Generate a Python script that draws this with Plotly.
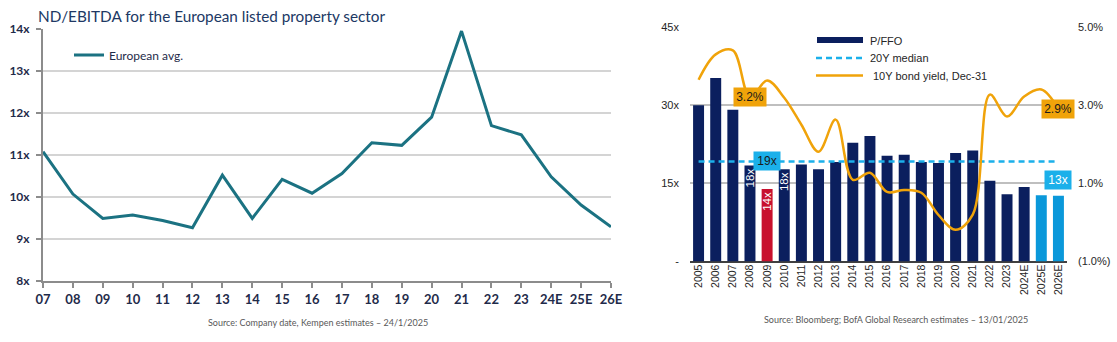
import plotly.graph_objects as go

# ---------------- Data ----------------
# Left panel: ND/EBITDA, European listed property sector
nd_years = ["07", "08", "09", "10", "11", "12", "13", "14", "15", "16",
            "17", "18", "19", "20", "21", "22", "23", "24E", "25E", "26E"]
nd_ebitda = [11.08, 10.07, 9.49, 9.57, 9.44, 9.27, 10.52, 9.49, 10.42, 10.09,
             10.56, 11.29, 11.23, 11.90, 13.95, 11.70, 11.48, 10.48, 9.81, 9.29]
nd_tickvals = [8, 9, 10, 11, 12, 13, 14]
nd_ticktext = ["8x", "9x", "10x", "11x", "12x", "13x", "14x"]

# Right panel: P/FFO and 10Y bond yield
pffo_years = ["2005", "2006", "2007", "2008", "2009", "2010", "2011", "2012",
              "2013", "2014", "2015", "2016", "2017", "2018", "2019", "2020",
              "2021", "2022", "2023", "2024E", "2025E", "2026E"]
pffo = [30.0, 35.2, 29.1, 18.4, 13.9, 17.7, 18.6, 17.7, 19.1, 22.8, 24.1,
        20.3, 20.5, 19.1, 18.9, 20.8, 21.3, 15.5, 12.9, 14.3, 12.7, 12.6]
bond_yield = [3.65, 4.30, 4.40, 3.20, 3.63, 3.19, 2.50, 1.81, 2.63, 1.09, 1.27,
              0.78, 0.83, 0.76, 0.19, -0.19, 0.20, 3.27, 2.71, 3.22, 3.40, 2.90]
pffo_median = 19.2
pffo_tickvals = [0, 15, 30, 45]
pffo_ticktext = ["-", "15x", "30x", "45x"]
yield_tickvals = [-1, 1, 3, 5]
yield_ticktext = ["(1.0%)", "1.0%", "3.0%", "5.0%"]

labelled_years = ["2008", "2009", "2010"]
median_label_year = "2009"
yield_callouts = ["2008", "2026E"]

# ---------------- Styling ----------------
W, H = 1117, 342
TEAL = "#1b7282"
NAVY = "#0b1f5e"
RED = "#c8102e"
LIGHT = "#0a98da"
SKY = "#1bb0ea"
ORANGE = "#f0a30a"
GRID = "#d4d4d4"
TXT_L = "#1f2b4a"
TXT_R = "#262626"


def px(x):
    return x / W


def py(y):
    return 1 - y / H


bar_colors = []
for yr in pffo_years:
    if yr == "2009":
        bar_colors.append(RED)
    elif yr in ("2025E", "2026E"):
        bar_colors.append(LIGHT)
    else:
        bar_colors.append(NAVY)

bar_text = [f"{round(v)}x" if yr in labelled_years else "" for yr, v in zip(pffo_years, pffo)]

fig = go.Figure()

# Left: ND/EBITDA line
fig.add_trace(go.Scatter(
    x=nd_years, y=nd_ebitda, mode="lines", name="European avg.",
    line=dict(color=TEAL, width=3), xaxis="x", yaxis="y",
    legend="legend", showlegend=True,
))

# Right: P/FFO bars
fig.add_trace(go.Bar(
    x=pffo_years, y=pffo, name="P/FFO", marker=dict(color=bar_colors, line=dict(width=0)),
    text=bar_text, textposition="inside", insidetextanchor="end", textangle=-90,
    insidetextfont=dict(color="white", size=11.5, family="Liberation Sans"),
    xaxis="x2", yaxis="y2", showlegend=False, cliponaxis=False,
))

# 20Y median
fig.add_trace(go.Scatter(
    x=[pffo_years[0], pffo_years[-1]], y=[pffo_median, pffo_median], mode="lines",
    line=dict(color=SKY, width=2.5, dash="6px,4px"), xaxis="x2", yaxis="y2",
    showlegend=False,
))

# 10Y bond yield
fig.add_trace(go.Scatter(
    x=pffo_years, y=bond_yield, mode="lines",
    line=dict(color=ORANGE, width=2.5, shape="spline", smoothing=1.0),
    xaxis="x2", yaxis="y3", showlegend=False,
))

# Callouts on the right panel (category positions given by index)
ann = []
ann.append(dict(x=pffo_years.index(median_label_year), y=pffo_median, xref="x2", yref="y2",
                text=f"{round(pffo_median)}x", showarrow=False, bgcolor=SKY,
                font=dict(color="#1a1a1a", size=12, family="Liberation Sans"),
                borderpad=2, width=22, height=14))
ann.append(dict(x=len(pffo_years) - 1, y=pffo[-1] + 3.0, xref="x2", yref="y2",
                text=f"{round(pffo[-1])}x", showarrow=False, bgcolor=SKY,
                font=dict(color="white", size=12, family="Liberation Sans"),
                borderpad=2, width=22, height=14))
for yr in yield_callouts:
    i = pffo_years.index(yr)
    ann.append(dict(x=i, y=bond_yield[i], xref="x2", yref="y3", text=f"{bond_yield[i]:.1f}%",
                    showarrow=False, bgcolor=ORANGE,
                    font=dict(color="#1a1a1a", size=12, family="Liberation Sans"),
                    borderpad=2, width=28, height=14))

# Titles and sources
ann.append(dict(x=px(36), y=py(16), xref="paper", yref="paper", xanchor="left", yanchor="middle",
                text="ND/EBITDA for the European listed property sector", showarrow=False,
                font=dict(color="#203864", size=15.3, family="Lato")))
ann.append(dict(x=px(318), y=py(322), xref="paper", yref="paper", xanchor="center", yanchor="middle",
                text="Source: Company date, Kempen estimates – 24/1/2025", showarrow=False,
                font=dict(color="#595959", size=9, family="Lato")))
ann.append(dict(x=px(896), y=py(319), xref="paper", yref="paper", xanchor="center", yanchor="middle",
                text="Source: Bloomberg; BofA Global Research estimates – 13/01/2025", showarrow=False,
                font=dict(color="#595959", size=9, family="Lato")))

# Right-panel legend
shapes = []
shapes.append(dict(type="rect", xref="paper", yref="paper", x0=px(817), x1=px(863), y0=py(43), y1=py(37),
                   fillcolor=NAVY, line=dict(width=0)))
shapes.append(dict(type="line", xref="paper", yref="paper", x0=px(816), x1=px(863), y0=py(58), y1=py(58),
                   line=dict(color=SKY, width=2.5, dash="6px,4px")))
shapes.append(dict(type="line", xref="paper", yref="paper", x0=px(816), x1=px(863), y0=py(75.5), y1=py(75.5),
                   line=dict(color=ORANGE, width=2.5)))
for label, ypos, xpos in [("P/FFO", 40.5, 868), ("20Y median", 58, 868), ("10Y bond yield, Dec-31", 76, 871)]:
    ann.append(dict(x=px(xpos), y=py(ypos), xref="paper", yref="paper", xanchor="left", yanchor="middle",
                    text=label, showarrow=False, font=dict(color=TXT_R, size=11, family="Liberation Sans")))

fig.update_layout(
    width=W, height=H, margin=dict(l=0, r=0, t=0, b=0, autoexpand=False),
    paper_bgcolor="white", plot_bgcolor="white",
    bargap=0.36,
    annotations=ann, shapes=shapes,
    uniformtext=dict(minsize=10, mode="show"),
    legend=dict(x=px(69), y=py(55), xanchor="left", yanchor="middle", bgcolor="rgba(0,0,0,0)",
                font=dict(color=TXT_L, size=12, family="Lato"), itemwidth=30),
    xaxis=dict(domain=[px(43), px(611)], anchor="y", type="category", range=[0, 19],
               showgrid=False, showline=True, linecolor="#8c8c8c", linewidth=2,
               ticks="outside", ticklen=5, tickcolor="#8c8c8c", tickwidth=1.5,
               tickfont=dict(color=TXT_L, size=13, family="Lato", weight="bold"), fixedrange=True),
    yaxis=dict(domain=[py(281), py(29)], anchor="x", range=[8, 14],
               tickvals=nd_tickvals, ticktext=nd_ticktext,
               showgrid=True, gridcolor=GRID, gridwidth=1.5, zeroline=False,
               showline=True, linecolor="#8c8c8c", linewidth=2,
               ticks="outside", ticklen=5, tickcolor="#8c8c8c", tickwidth=1.5, ticklabelstandoff=4,
               tickfont=dict(color=TXT_L, size=12, family="Lato", weight="bold"), fixedrange=True),
    xaxis2=dict(domain=[px(690), px(1067)], anchor="y2", type="category",
                range=[-0.5, len(pffo_years) - 0.5],
                showgrid=False, showline=False, ticks="", tickangle=-90,
                tickfont=dict(color=TXT_R, size=10.5, family="Liberation Sans"), fixedrange=True),
    yaxis2=dict(domain=[py(261.5), py(27)], anchor="x2", range=[0, 45],
                tickvals=pffo_tickvals, ticktext=pffo_ticktext,
                showgrid=True, gridcolor="#bfbfbf", gridwidth=1.5,
                zeroline=True, zerolinecolor="#404040", zerolinewidth=2,
                showline=False, ticks="", ticklabelstandoff=10,
                tickfont=dict(color=TXT_R, size=11, family="Liberation Sans"), fixedrange=True),
    yaxis3=dict(overlaying="y2", side="right", anchor="x2", range=[-1, 5],
                tickvals=yield_tickvals, ticktext=yield_ticktext,
                showgrid=False, zeroline=False, showline=False, ticks="", ticklabelstandoff=10,
                tickfont=dict(color=TXT_R, size=11, family="Liberation Sans"), fixedrange=True),
)

fig.write_html("out.html")
